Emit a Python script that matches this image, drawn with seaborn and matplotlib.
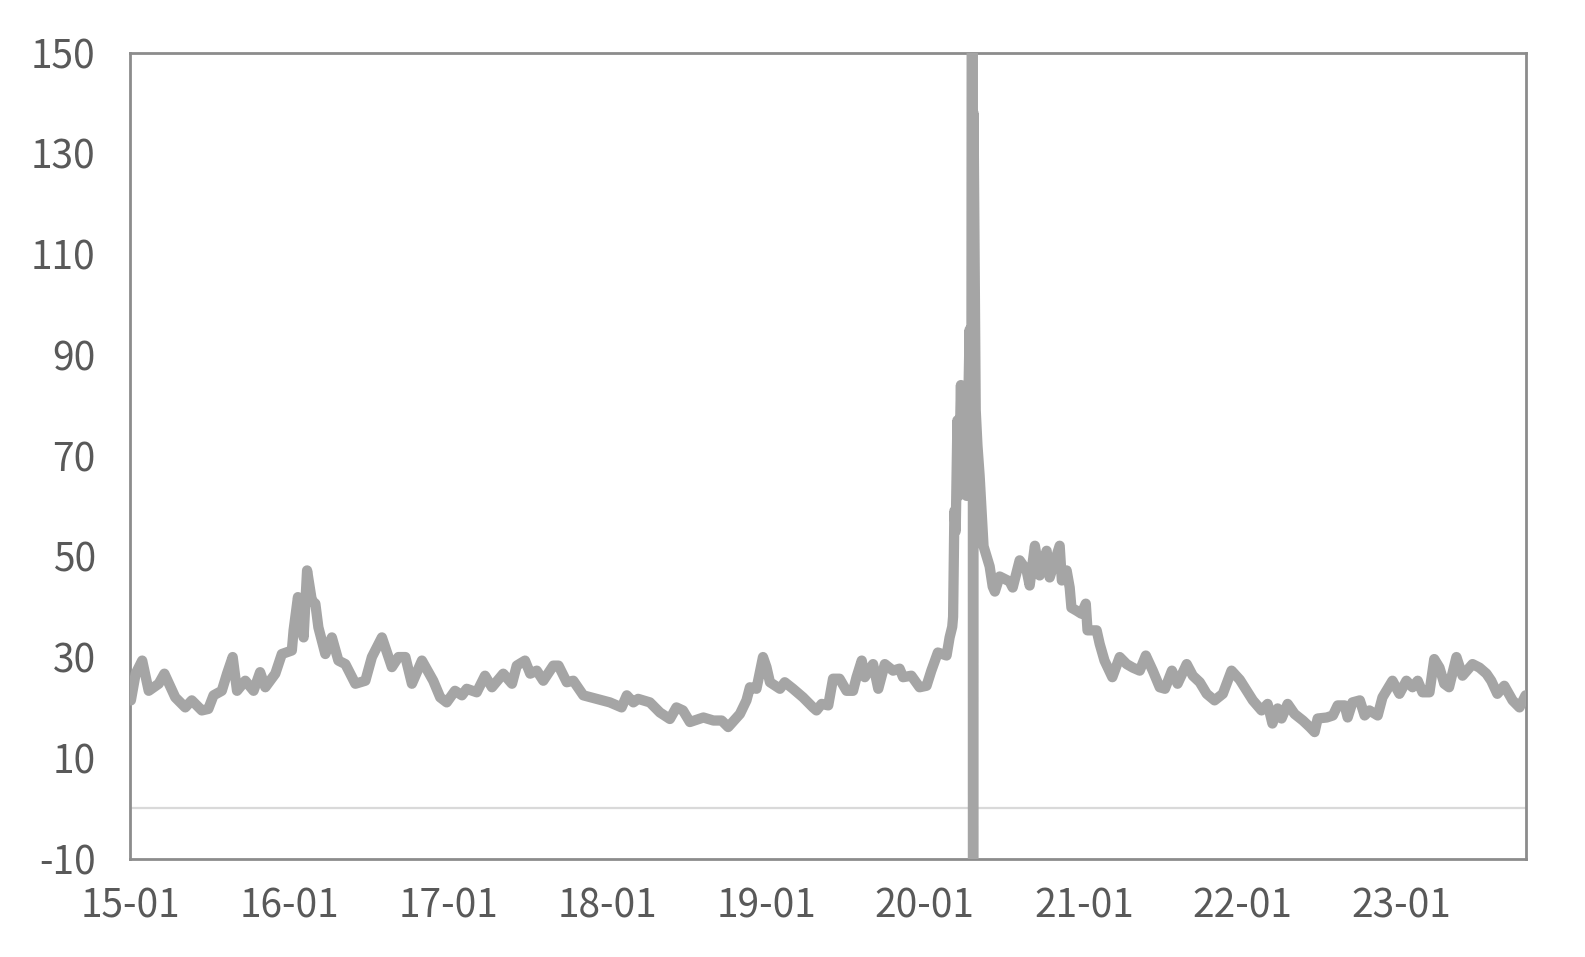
import pandas as pd
import matplotlib
matplotlib.use("Agg")
import matplotlib.pyplot as plt
import matplotlib.dates as mdates
import seaborn as sns

# Данни, отчетени от графиката (дата, стойност)
dates = [
    "2015-01-02", "2015-01-13", "2015-01-28", "2015-02-12", "2015-03-07", "2015-03-20",
    "2015-04-14", "2015-05-07", "2015-05-22", "2015-06-14", "2015-06-29", "2015-07-11",
    "2015-07-30", "2015-08-11", "2015-08-24", "2015-09-03", "2015-09-22", "2015-10-11",
    "2015-10-26", "2015-11-07", "2015-11-30", "2015-12-15",
    "2016-01-07", "2016-01-11", "2016-01-21", "2016-02-03", "2016-02-11", "2016-02-22",
    "2016-03-01", "2016-03-08", "2016-03-24", "2016-04-08", "2016-04-23", "2016-05-09",
    "2016-06-01", "2016-06-24", "2016-07-09", "2016-08-01", "2016-08-24", "2016-09-08",
    "2016-09-24", "2016-10-09", "2016-11-01", "2016-11-27", "2016-12-13", "2016-12-28",
    "2017-01-16", "2017-02-01", "2017-02-12", "2017-03-07", "2017-03-26", "2017-04-11",
    "2017-05-07", "2017-05-27", "2017-06-07", "2017-06-26", "2017-07-08", "2017-07-23",
    "2017-08-07", "2017-08-30", "2017-09-11", "2017-09-30", "2017-10-15", "2017-11-07",
    "2017-12-08",
    "2018-01-07", "2018-02-03", "2018-02-15", "2018-03-02", "2018-03-13", "2018-04-09",
    "2018-05-02", "2018-05-25", "2018-06-09", "2018-06-24", "2018-07-10", "2018-08-10",
    "2018-09-02", "2018-09-21", "2018-10-06", "2018-11-02", "2018-11-17", "2018-11-25",
    "2018-12-10", "2018-12-25",
    "2019-01-02", "2019-01-10", "2019-02-02", "2019-02-13", "2019-03-04", "2019-03-27",
    "2019-04-19", "2019-04-27", "2019-05-09", "2019-05-24", "2019-06-04", "2019-06-19",
    "2019-07-05", "2019-07-20", "2019-07-28", "2019-08-09", "2019-08-16", "2019-09-04",
    "2019-09-16", "2019-10-01", "2019-10-20", "2019-11-04", "2019-11-12", "2019-12-01",
    "2019-12-20",
    "2020-01-05", "2020-01-16", "2020-01-31", "2020-02-20", "2020-02-27", "2020-03-04",
    "2020-03-06", "2020-03-09", "2020-03-12", "2020-03-16", "2020-03-19", "2020-03-24",
    "2020-03-27", "2020-04-01", "2020-04-06", "2020-04-13", "2020-04-17", "2020-04-20",
    "2020-04-21", "2020-04-22", "2020-04-27", "2020-05-01", "2020-05-06", "2020-05-11",
    "2020-05-15", "2020-05-22", "2020-05-29", "2020-06-05", "2020-06-10", "2020-06-21",
    "2020-07-14", "2020-07-21", "2020-08-06", "2020-08-22", "2020-08-29", "2020-09-10",
    "2020-09-21", "2020-10-07", "2020-10-14", "2020-11-06", "2020-11-11", "2020-11-22",
    "2020-11-29", "2020-12-03", "2020-12-15", "2020-12-26",
    "2021-01-05", "2021-01-09", "2021-01-30", "2021-02-06", "2021-02-17", "2021-03-07",
    "2021-03-24", "2021-04-09", "2021-04-23", "2021-05-09", "2021-05-23", "2021-06-08",
    "2021-06-24", "2021-07-06", "2021-07-22", "2021-08-04", "2021-08-25", "2021-09-08",
    "2021-09-24", "2021-10-10", "2021-10-28", "2021-11-16", "2021-12-06", "2021-12-25",
    "2022-01-10", "2022-01-24", "2022-02-13", "2022-02-27", "2022-03-10", "2022-03-22",
    "2022-03-31", "2022-04-14", "2022-04-30", "2022-05-19", "2022-06-04", "2022-06-15",
    "2022-06-22", "2022-07-13", "2022-07-27", "2022-08-07", "2022-08-23", "2022-08-30",
    "2022-09-10", "2022-09-27", "2022-10-08", "2022-10-19", "2022-11-07", "2022-11-18",
    "2022-12-11", "2022-12-27",
    "2023-01-12", "2023-01-26", "2023-02-07", "2023-02-18", "2023-03-06", "2023-03-17",
    "2023-03-29", "2023-04-09", "2023-04-20", "2023-05-07", "2023-05-21", "2023-06-13",
    "2023-06-29", "2023-07-15", "2023-07-26", "2023-08-09", "2023-08-25", "2023-09-13",
    "2023-09-29", "2023-10-13",
]

values = [
    21.4, 26.7, 29.3, 23.3, 24.7, 26.7,
    22.0, 20.0, 21.4, 19.4, 19.7, 22.4,
    23.3, 26.7, 30.0, 23.3, 25.3, 23.3,
    27.0, 24.0, 26.7, 30.6,
    31.3, 35.3, 41.9, 33.9, 47.2, 41.2,
    40.6, 35.9, 30.6, 33.9, 29.3, 28.6,
    24.7, 25.3, 30.0, 33.9, 28.0, 30.0,
    30.0, 24.7, 29.3, 25.3, 22.0, 21.0,
    23.3, 22.4, 23.7, 23.0, 26.3, 24.0,
    26.7, 24.7, 28.3, 29.3, 26.7, 27.3,
    25.3, 28.3, 28.3, 25.0, 25.3, 22.4,
    21.7,
    21.0, 20.0, 22.4, 21.0, 21.7, 21.0,
    19.0, 17.7, 20.0, 19.4, 17.1, 18.0,
    17.4, 17.4, 16.1, 18.7, 21.4, 24.0,
    23.7, 30.0,
    28.0, 25.0, 23.7, 25.0, 23.7, 22.0,
    20.0, 19.4, 20.7, 20.4, 25.7, 25.7,
    23.3, 23.3, 26.0, 29.3, 26.0, 28.6,
    23.7, 28.6, 27.3, 27.7, 26.0, 26.3,
    24.0,
    24.3, 27.3, 30.9, 30.3, 33.9, 36.0,
    38.0, 59.0, 55.0, 77.0, 62.0, 84.0,
    66.0, 80.0, 62.0, 95.0, 72.0, 400.0,
    -300.0, 138.0, 79.0, 72.0, 66.0, 58.0,
    52.0, 50.0, 48.0, 44.0, 43.0, 46.0,
    45.0, 43.8, 49.2, 47.2, 44.2, 52.1,
    46.2, 51.1, 45.8, 52.1, 45.2, 47.2,
    43.8, 39.8, 39.2, 38.6,
    40.6, 35.3, 35.3, 32.6, 29.3, 26.0,
    30.0, 28.6, 27.9, 27.3, 30.3, 27.3,
    24.0, 23.7, 27.3, 24.7, 28.6, 26.3,
    25.0, 22.7, 21.4, 22.7, 27.3, 25.5,
    23.3, 21.4, 19.4, 20.7, 16.8, 19.8,
    17.8, 20.7, 18.7, 17.4, 16.1, 15.1,
    17.8, 18.0, 18.4, 20.4, 20.4, 18.0,
    21.0, 21.4, 18.4, 19.4, 18.4, 22.0,
    25.3, 22.7,
    25.3, 24.0, 25.3, 23.0, 23.0, 29.6,
    27.9, 24.7, 24.0, 30.0, 26.3, 28.6,
    27.9, 26.7, 25.3, 22.7, 24.3, 21.4,
    20.0, 22.4,
]

y_ticks = [-10, 10, 30, 50, 70, 90, 110, 130, 150]
x_start = "2015-01-01"
x_end = "2023-10-14"

LINE_COLOR = "#A5A5A5"
TEXT_COLOR = "#595959"

df = pd.DataFrame({"date": pd.to_datetime(dates), "value": values})

sns.set_theme(style="white")
plt.rcParams["font.family"] = ["Noto Sans CJK SC", "DejaVu Sans"]
plt.rcParams["axes.unicode_minus"] = False

fig = plt.figure(figsize=(15.85, 9.57), dpi=100)
ax = fig.add_axes([0.0823, 0.1029, 0.8805, 0.8421])

# нулева линия
ax.axhline(0, color="#D9D9D9", linewidth=1.6, zorder=1)

sns.lineplot(data=df, x="date", y="value", ax=ax, color=LINE_COLOR,
             linewidth=7.4, estimator=None, zorder=3,
             solid_joinstyle="round", solid_capstyle="round")

ax.set_xlim(pd.Timestamp(x_start), pd.Timestamp(x_end))
ax.set_ylim(y_ticks[0], y_ticks[-1])
ax.set_yticks(y_ticks)
ax.xaxis.set_major_locator(mdates.YearLocator())
ax.xaxis.set_major_formatter(mdates.DateFormatter("%y-%m"))

ax.set_xlabel("")
ax.set_ylabel("")
ax.grid(False)

for side in ["left", "right", "top", "bottom"]:
    ax.spines[side].set_visible(True)
    ax.spines[side].set_color("#8C8C8C")
    ax.spines[side].set_linewidth(2.0)

ax.tick_params(axis="y", length=0, pad=25, labelsize=28, labelcolor=TEXT_COLOR)
ax.tick_params(axis="x", length=0, pad=20, labelsize=28, labelcolor=TEXT_COLOR)

fig.savefig("out.png", dpi=100, facecolor="white")
plt.close(fig)
